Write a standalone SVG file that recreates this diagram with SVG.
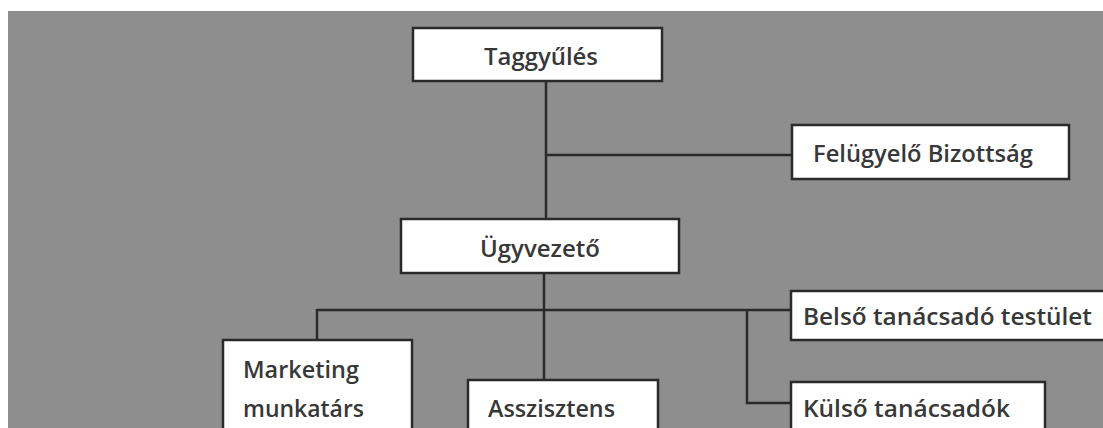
<svg xmlns="http://www.w3.org/2000/svg" width="1103" height="428" viewBox="0 0 1103 428">
<style>
.box{fill:#ffffff;stroke:#2a2a2a;stroke-width:2.5}
.lbl{font-family:"Open Sans","Liberation Sans",sans-serif;font-size:24px;font-weight:600;fill:#383838}
.conn{stroke:#2a2a2a;stroke-width:2.5;fill:none}
</style>
<rect x="0" y="0" width="1103" height="428" fill="#ffffff"/>
<rect x="8" y="11" width="1095" height="417" fill="#8e8e8e"/>
<g id="connectors">
<line class="conn" x1="546" y1="81" x2="546" y2="219"/>
<line class="conn" x1="546" y1="155" x2="792" y2="155"/>
<line class="conn" x1="544" y1="273" x2="544" y2="380"/>
<line class="conn" x1="317" y1="310" x2="791" y2="310"/>
<line class="conn" x1="317" y1="309" x2="317" y2="340"/>
<polyline class="conn" points="747,310 747,403 791,403"/>
</g>
<g id="taggyules">
<rect class="box" x="413" y="28" width="249" height="53"/>
<text class="lbl" x="484" y="65" textLength="114" lengthAdjust="spacingAndGlyphs">Taggyűlés</text>
</g>
<g id="felugyelo">
<rect class="box" x="792" y="125" width="277" height="54"/>
<text class="lbl" x="813" y="162" textLength="220" lengthAdjust="spacingAndGlyphs">Felügyelő Bizottság</text>
</g>
<g id="ugyvezeto">
<rect class="box" x="401" y="219" width="278" height="54"/>
<text class="lbl" x="480" y="257" textLength="120" lengthAdjust="spacingAndGlyphs">Ügyvezető</text>
</g>
<g id="marketing">
<rect class="box" x="223" y="340" width="189" height="100"/>
<text class="lbl" x="243" y="378" textLength="116" lengthAdjust="spacingAndGlyphs">Marketing</text>
<text class="lbl" x="243" y="417" textLength="121" lengthAdjust="spacingAndGlyphs">munkatárs</text>
</g>
<g id="asszisztens">
<rect class="box" x="468" y="380" width="190" height="60"/>
<text class="lbl" x="488" y="417" textLength="127" lengthAdjust="spacingAndGlyphs">Asszisztens</text>
</g>
<g id="belso">
<rect class="box" x="791" y="291" width="330" height="49"/>
<text class="lbl" x="803" y="325" textLength="289" lengthAdjust="spacingAndGlyphs">Belső tanácsadó testület</text>
</g>
<g id="kulso">
<rect class="box" x="791" y="382" width="254" height="60"/>
<text class="lbl" x="803" y="417" textLength="207" lengthAdjust="spacingAndGlyphs">Külső tanácsadók</text>
</g>
</svg>
